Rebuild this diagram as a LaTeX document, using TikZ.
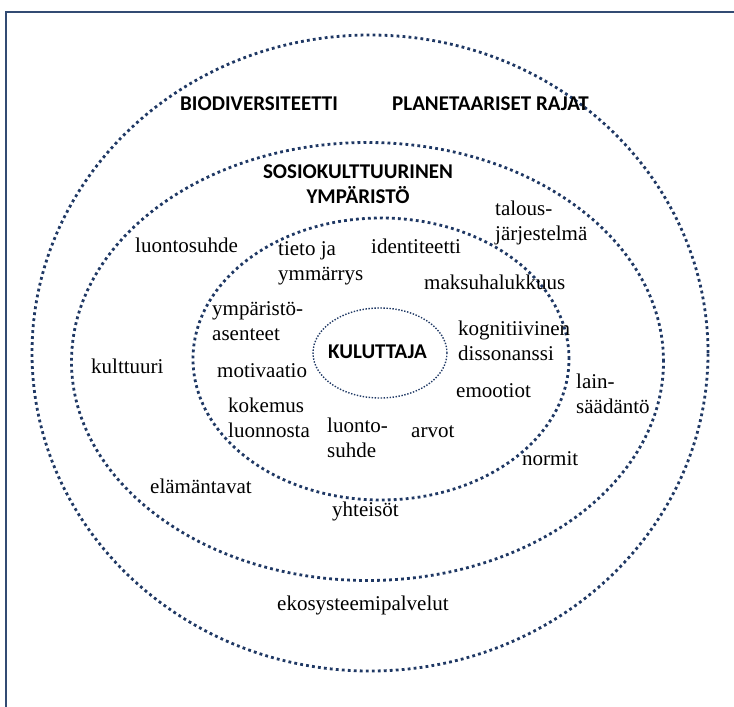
\documentclass[tikz,border=0pt]{standalone}
\usepackage{fontspec}
\setmainfont{Liberation Serif}
\newfontfamily\hdrfont{Carlito}
\definecolor{ringblue}{HTML}{1F3864}
\definecolor{framecol}{RGB}{50,75,115}
\begin{document}
\begin{tikzpicture}[x=1pt,y=-1pt,
  ring/.style={draw=ringblue,line width=2.8pt,dash pattern=on 2.8pt off 3.2pt},
  thinring/.style={draw=ringblue,line width=1.4pt,dash pattern=on 1.4pt off 1.6pt},
  lbl/.style={inner sep=0pt,anchor=base west,font=\fontsize{21}{25}\selectfont,align=left},
  hdr/.style={inner sep=0pt,anchor=base west,font=\hdrfont\bfseries\fontsize{21}{25}\selectfont,align=center}]
\useasboundingbox (0,0) rectangle (734,707);
% frame
\draw[framecol,line width=2pt] (734,12) -- (6,12) -- (6,707);
% rings
\draw[ring] (370,353) ellipse [x radius=338pt, y radius=318pt];
\draw[ring] (367.5,361.5) ellipse [x radius=296pt, y radius=219pt];
\draw[ring] (381,359) ellipse [x radius=188pt, y radius=141pt];
\draw[thinring] (380,353) ellipse [x radius=67pt, y radius=45pt];
% headers
\node[hdr] (bio) at (180,110) {BIODIVERSITEETTI};
\node[hdr] (plan) at (392,110) {PLANETAARISET RAJAT};
\node[hdr,anchor=base] (sosio) at (358,203) {SOSIOKULTTUURINEN\\YMPÄRISTÖ};
\node[hdr] (kul) at (328,358) {KULUTTAJA};
% middle ring labels
\node[lbl] (talous) at (495,240) {talous-\\järjestelmä};
\node[lbl] (luontos) at (135,252) {luontosuhde};
\node[lbl] (kulttuuri) at (91,373) {kulttuuri};
\node[lbl] (lain) at (576,413) {lain-\\säädäntö};
\node[lbl] (normit) at (522,465) {normit};
\node[lbl] (elam) at (150,493) {elämäntavat};
\node[lbl] (yht) at (332,516) {yhteisöt};
% outer ring label
\node[lbl] (eko) at (277,610) {ekosysteemipalvelut};
% inner ring labels
\node[lbl] (tieto) at (278,280) {tieto ja\\ymmärrys};
\node[lbl] (ident) at (371,253) {identiteetti};
\node[lbl] (maksu) at (424,289) {maksuhalukkuus};
\node[lbl] (ymp) at (212,340) {ympäristö-\\asenteet};
\node[lbl] (kogn) at (458,360) {kognitiivinen\\dissonanssi};
\node[lbl] (motiv) at (217,377) {motivaatio};
\node[lbl] (emo) at (456,397) {emootiot};
\node[lbl] (koke) at (228,437) {kokemus\\luonnosta};
\node[lbl] (luonto) at (327,457) {luonto-\\suhde};
\node[lbl] (arvot) at (411,437) {arvot};
\end{tikzpicture}
\end{document}
